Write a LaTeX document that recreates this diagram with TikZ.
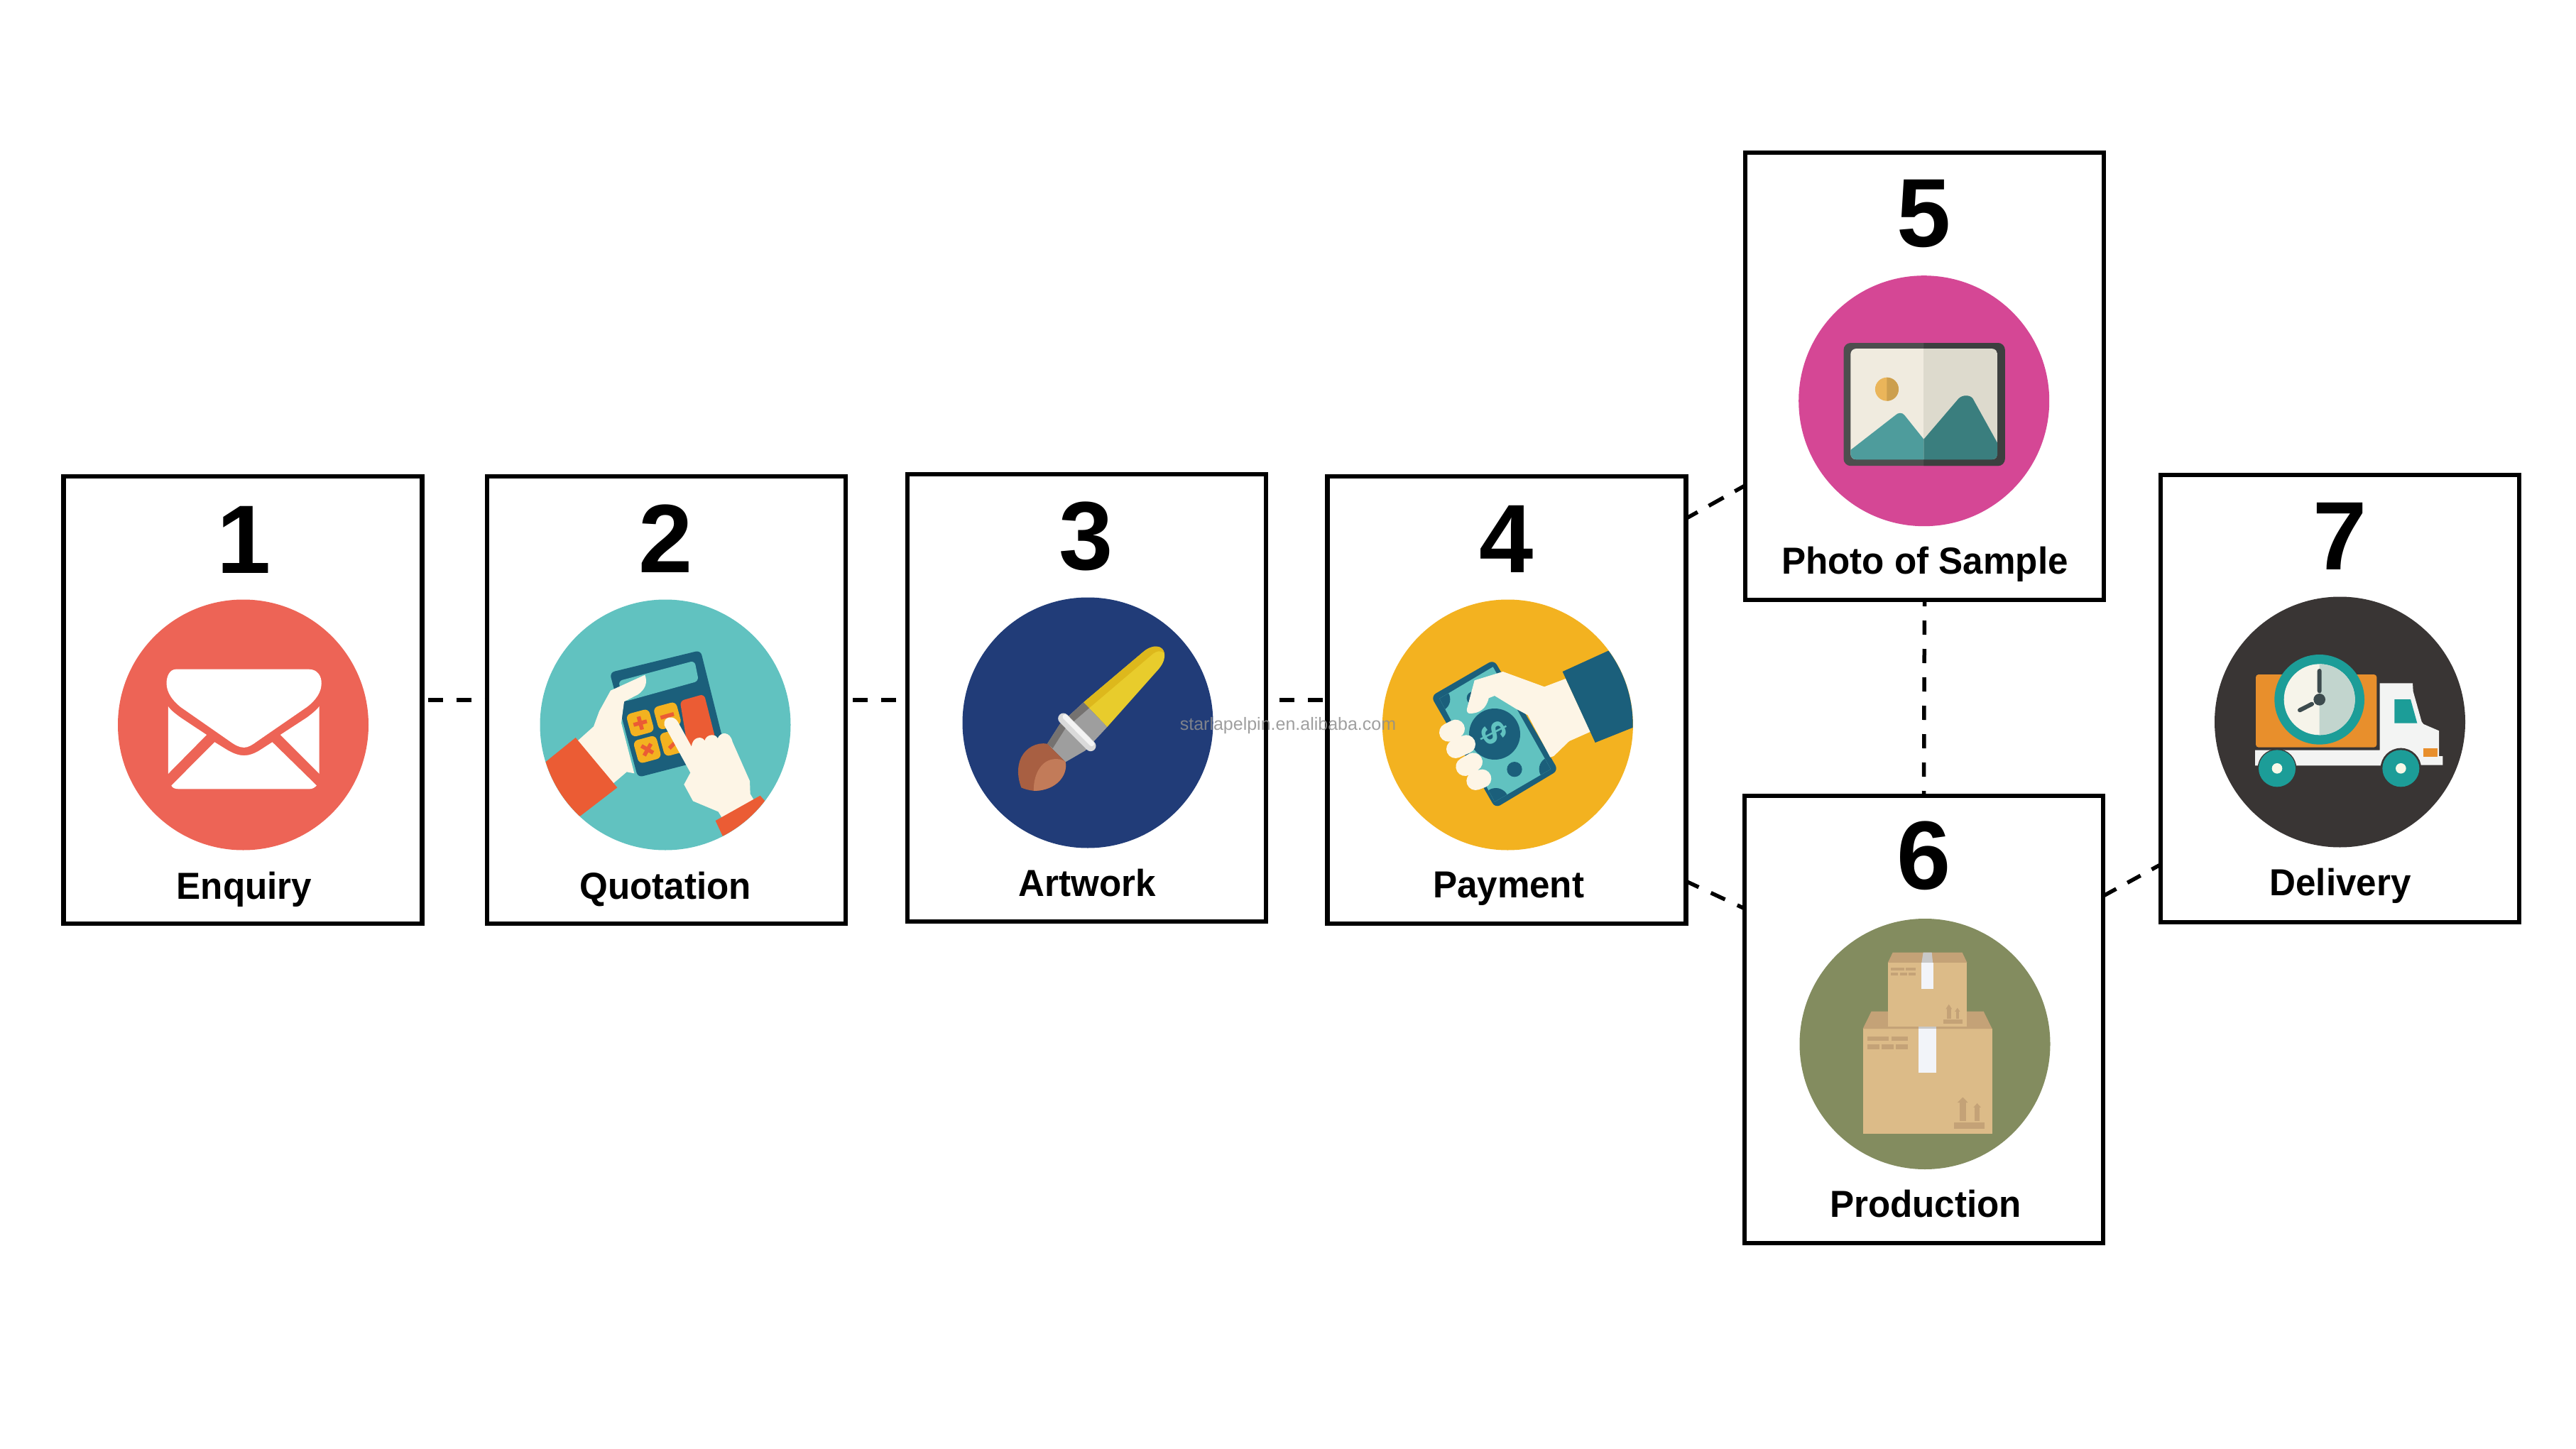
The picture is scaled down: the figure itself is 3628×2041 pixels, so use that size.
\documentclass[tikz,border=0pt]{standalone}
\usepackage{fontspec}
\usetikzlibrary{calc}
\setmainfont{Liberation Sans}
\newfontfamily\labelfamily[FakeStretch=0.965]{Liberation Sans}
\definecolor{cEnq}{HTML}{ED6456}
\definecolor{cQuo}{HTML}{61C2C0}
\definecolor{cArt}{HTML}{213C78}
\definecolor{cPay}{HTML}{F3B220}
\definecolor{cPho}{HTML}{D54795}
\definecolor{cPro}{HTML}{838C5F}
\definecolor{cDel}{HTML}{393534}
\definecolor{iBlue}{HTML}{1B5F7B}
\definecolor{iRed}{HTML}{EB5C34}
\definecolor{iCream}{HTML}{FDF5E6}
\definecolor{iTeal}{HTML}{1C9D98}
\definecolor{iOrange}{HTML}{E88F2C}
\definecolor{iBox}{HTML}{DCBB88}
\definecolor{iFlap}{HTML}{C4A277}
\definecolor{iTape}{HTML}{F2F4F9}
\definecolor{wmgray}{HTML}{8F8F8F}
\tikzset{
  hex/.code={\definecolor{tmphex}{HTML}{#1}\pgfkeysalso{color=tmphex}},
  cardbox/.style={draw=black,fill=white,line width=6.5pt,minimum width=505pt,minimum height=630pt,inner sep=0pt,outer sep=0pt},
  disc/.style={circle,draw=none,minimum size=353pt,inner sep=0pt,outer sep=0pt},
  numtext/.style={anchor=base,inner sep=0pt,font=\fontsize{137}{137}\selectfont\bfseries},
  labtext/.style={anchor=base,inner sep=0pt,font=\fontsize{53}{53}\selectfont\labelfamily\bfseries},
  link/.style={draw=black,line width=5.5pt,dash pattern=on 21pt off 19pt},
  wmark/.style={anchor=base,inner sep=0pt,text=wmgray,text opacity=.85,font=\fontsize{25}{25}\selectfont},
}
\begin{document}
\begin{tikzpicture}[x=1pt,y=-1pt]
\useasboundingbox (0,0) rectangle (3628,2041);
\fill[white] (0,0) rectangle (3628,2041);
% cards
\node[cardbox] (b1) at (342,986) {};
\node[cardbox] (b2) at (938.5,986) {};
\node[cardbox] (b3) at (1530.5,983) {};
\node[cardbox] (b4) at (2121.75,986) {};
\node[cardbox] (b5) at (2710.5,530) {};
\node[cardbox] (b6) at (2709.5,1436) {};
\node[cardbox] (b7) at (3295.5,984) {};
% discs
\node[disc,fill=cEnq] (c1) at (342.5,1021) {};
\node[disc,fill=cQuo] (c2) at (937,1021) {};
\node[disc,fill=cArt] (c3) at (1532,1018) {};
\node[disc,fill=cPay] (c4) at (2123.4,1021) {};
\node[disc,fill=cPho] (c5) at (2709.7,564.7) {};
\node[disc,fill=cPro] (c6) at (2711,1470.5) {};
\node[disc,fill=cDel] (c7) at (3295.5,1017) {};
% numbers
\node[numtext] (n1) at (344,807) {1};
\node[numtext] (n2) at (938,806.5) {2};
\node[numtext] (n3) at (1530,802) {3};
\node[numtext] (n4) at (2122,806) {4};
\node[numtext] (n5) at (2710,347.5) {5};
\node[numtext] (n6) at (2710,1252.5) {6};
\node[numtext] (n7) at (3295.5,802) {7};
% labels
\node[labtext] (l1) at (344,1266) {Enquiry};
\node[labtext] (l2) at (937,1266) {Quotation};
\node[labtext] (l3) at (1531.6,1262) {Artwork};
\node[labtext] (l4) at (2124.6,1264) {Payment};
\node[labtext] (l5) at (2711,808) {Photo of Sample};
\node[labtext] (l6) at (2712,1714) {Production};
\node[labtext] (l7) at (3296,1261) {Delivery};
% connectors
\draw[link,dash phase=32pt] (b1.east) -- (b2.west);
\draw[link,dash phase=30pt] (b2.east) -- (b2.east -| b3.west);
\draw[link,dash phase=21pt] (b4.west -| b3.east) -- (b4.west);
\draw[link,dash pattern=on 24pt off 18pt,dash phase=5pt] ($(b4.north east)!.0945!(b4.south east)$) -- ($(b5.north west)!.744!(b5.south west)$);
\draw[link,dash pattern=on 22pt off 19pt,dash phase=2pt] ($(b4.north east)!.905!(b4.south east)$) -- ($(b6.north west)!.252!(b6.south west)$);
\draw[link,dash pattern=on 20pt off 20pt,dash phase=11pt] (b5.south) -- (b6.north);
\draw[link,dash pattern=on 21pt off 18pt] ($(b6.north east)!.224!(b6.south east)$) -- ($(b7.north west)!.871!(b7.south west)$);
% ---- envelope
\begin{scope}[shift={(60,640)},x=.7524pt,y=-.4464pt]
\fill[white] (250,678) -- (498,678) .. controls (515,678) and (522,700) .. (522,722) .. controls (522,750) and (512,775) .. (495,797) -- (402,905) .. controls (392,917) and (385,925) .. (377,925) .. controls (368,925) and (360,917) .. (350,905) -- (258,797) .. controls (242,775) and (232,750) .. (232,722) .. controls (232,700) and (238,678) .. (250,678) -- cycle;
\fill[white] (235,795) .. controls (240,808) and (250,820) .. (258,830) -- (307,885) -- (235,1008) -- cycle;
\fill[white] (518,795) .. controls (512,808) and (503,820) .. (495,830) -- (445,885) -- (518,1008) -- cycle;
\fill[white] (322,908) -- (345,932) .. controls (358,945) and (368,950) .. (377,950) .. controls (386,950) and (396,945) .. (408,932) -- (430,908) -- (513,1045) .. controls (508,1053) and (505,1056) .. (498,1056) -- (256,1056) .. controls (248,1056) and (243,1053) .. (241,1045) -- cycle;
\end{scope}
% ---- calculator
\begin{scope}[shift={(760,880)},x=.33333pt,y=-.33333pt]
\clip (531,423) circle [radius=529];
\fill[iBlue,rounded corners=7pt] (296,202) -- (680,108) -- (790,548) -- (415,645) -- cycle;
\fill[cQuo,rounded corners=6pt] (332,238) -- (655,152) -- (672,238) -- (358,325) -- cycle;
\fill[iRed,rounded corners=6pt] (593,322) -- (695,293) -- (750,510) -- (630,545) -- cycle;
\foreach \c in {(425,415),(540,385),(455,527),(565,497)}
  \fill[cPay,rounded corners=7pt] \c +(-61,-35) -- +(35,-61) -- +(61,35) -- +(-35,61) -- cycle;
\draw[iRed,line width=5.5pt] (397,423) -- (453,408) (418,388) -- (433,443);
\draw[iRed,line width=5.5pt] (511,393) -- (567,377);
\draw[iRed,line width=5.5pt] (430,512) -- (480,541) (442,553) -- (470,503);
\draw[iRed,line width=5.5pt] (548,522) -- (570,500);
\fill[iCream] (445,212) -- (300,278) -- (252,365) -- (228,430) -- (150,500) -- (300,680) -- (368,622) -- (400,628) -- (345,415) -- (357,325) -- (415,295) .. controls (445,275) and (458,245) .. (445,212) -- cycle;
\fill[iRed] (152,477) -- (328,688) -- (172,808) -- (0,800) -- (0,600) -- cycle;
\fill[iCream] (527,425) .. controls (520,385) and (570,380) .. (585,412) -- (642,515) .. controls (645,470) and (690,470) .. (697,490) .. controls (705,460) and (745,460) .. (752,480) .. controls (765,450) and (805,450) .. (815,495) -- (888,660) -- (890,715) -- (905,740) -- (770,815) -- (755,790) -- (648,745) -- (610,675) -- (637,625) -- cycle;
\fill[iRed] (932,722) -- (1000,800) -- (960,950) -- (800,950) -- (743,828) -- cycle;
\end{scope}
% ---- brush
\begin{scope}[shift={(1400,880)},x=.33333pt,y=-.33333pt]
\fill[hex=E8CC2C] (378,328) -- (630,115) .. controls (670,80) and (725,85) .. (720,135) .. controls (718,160) and (705,175) .. (695,188) -- (478,432) -- cycle;
\fill[hex=DDB81C] (378,328) -- (630,115) .. controls (670,80) and (715,85) .. (720,122) .. controls (705,105) and (685,112) .. (672,122) -- (402,352) -- cycle;
\fill[hex=9E9E9E] (378,328) -- (478,432) -- (385,532) -- (302,580) -- (225,503) -- (278,420) -- cycle;
\fill[hex=757270] (378,328) -- (402,352) -- (300,440) -- (248,522) -- (225,503) -- (278,420) -- cycle;
\draw[hex=DADADA,line width=15pt,line cap=round] (293,396) -- (408,512);
\draw[hex=F4F4F4,line width=7pt,line cap=round] (300,389) -- (413,503);
\fill[hex=A85F42] (225,503) -- (302,580) .. controls (312,630) and (270,700) .. (170,702) .. controls (150,700) and (130,695) .. (115,688) .. controls (100,650) and (95,600) .. (115,560) .. controls (135,520) and (180,495) .. (225,503) -- cycle;
\fill[hex=C27B59] (168,702) .. controls (165,640) and (195,575) .. (250,568) .. controls (275,565) and (295,572) .. (302,580) .. controls (312,630) and (270,700) .. (168,702) -- cycle;
\end{scope}
% ---- payment
\begin{scope}[shift={(1950,880)},x=.33333pt,y=-.33333pt]
\clip (520,423) circle [radius=529];
\fill[iBlue,rounded corners=8pt] (196,302) -- (462,148) -- (734,615) -- (468,775) -- cycle;
\begin{scope}
\clip (232,312) -- (458,178) -- (702,610) -- (465,748) -- cycle;
\fill[cQuo] (200,150) rectangle (740,780);
\fill[iBlue] (225,315) circle [radius=52];
\fill[iBlue] (705,610) circle [radius=52];
\fill[iBlue] (470,745) circle [radius=55];
\fill[iBlue] (375,310) circle [radius=28];
\end{scope}
\fill[iBlue] (465,462) circle [radius=108];
\fill[iBlue] (549,611) circle [radius=32];
\node[text=cQuo,rotate=-63,inner sep=0pt,font=\fontsize{50}{50}\selectfont\bfseries] (dollar) at (462,456) {\$};
\fill[iCream] (380,235) -- (500,198) -- (675,262) -- (765,228) -- (870,452) -- (780,492) -- (715,555) -- (700,560) -- (605,382) -- (555,355) -- (465,300) -- (440,310) .. controls (430,355) and (400,375) .. (360,375) .. controls (350,375) and (346,365) .. (348,355) -- cycle;
\draw[iCream,line width=26pt,line cap=round] (270,455) -- (300,440) (300,525) -- (345,505) (340,600) -- (375,580) (385,660) -- (412,650);
\fill[iBlue] (752,198) -- (945,110) -- (1060,150) -- (1060,430) -- (890,498) -- cycle;
\end{scope}
% ---- photo
\begin{scope}[shift={(2440,200)},x=.7524pt,y=-.4464pt]
\fill[hex=4D4E4E,rounded corners=10pt] (208,634) rectangle (510,1022);
\begin{scope}
\clip (358,600) rectangle (540,1040);
\fill[hex=3D3F3F,rounded corners=10pt] (208,634) rectangle (510,1022);
\end{scope}
\begin{scope}
\clip[rounded corners=8pt] (221,652) rectangle (496,1002);
\fill[hex=F0EBDF] (221,652) rectangle (358,1002);
\fill[hex=DDDACD] (358,652) rectangle (496,1002);
\fill[hex=4E9C9C] (221,972) -- (305,862) .. controls (310,853) and (318,853) .. (322,862) -- (358,938) -- (358,1002) -- (221,1002) -- cycle;
\fill[hex=3A7E7E] (358,938) -- (423,810) .. controls (430,797) and (445,797) .. (450,810) -- (496,950) -- (496,1002) -- (358,1002) -- cycle;
\end{scope}
\fill[hex=EAB55A] (289,780) ellipse [x radius=22,y radius=37];
\begin{scope}
\clip (289,730) rectangle (320,830);
\fill[hex=CC9F4E] (289,780) ellipse [x radius=22,y radius=37];
\end{scope}
\end{scope}
% ---- parcels
\begin{scope}[shift={(2440,1100)},x=.7524pt,y=-.4464pt]
\fill[iBox] (244,782) rectangle (486,1113);
\fill[iFlap] (244,782) -- (260,727) -- (470,727) -- (486,782) -- cycle;
\fill[hex=C8C8C8] (348,775) rectangle (382,782);
\fill[iTape] (348,782) rectangle (382,920);
\foreach \a/\b/\c/\d in {252/806/292/820,298/806/328/820,252/832/275/846,279/832/302/846,306/832/328/846,425/1015/437/1073,453/1030/463/1073,415/1078/472/1097}
  \fill[iFlap] (\a,\b) rectangle (\c,\d);
\fill[iFlap] (421,1015) -- (431,998) -- (441,1015) -- cycle;
\fill[iFlap] (451,1030) -- (458,1017) -- (465,1030) -- cycle;
\fill[iBox] (291,573) rectangle (439,775);
\fill[iFlap] (291,573) -- (300,541) -- (430,541) -- (439,573) -- cycle;
\fill[hex=C8C8C8] (357,541) -- (373,541) -- (375,573) -- (354,573) -- cycle;
\fill[iTape] (354,573) rectangle (376,657);
\foreach \a/\b/\c/\d in {297/589/321/597,324/589/343/597,297/605/310/613,313/605/327/613,330/605/343/613,401/720/409/750,418/728/424/750,395/753/430/765}
  \fill[iFlap] (\a,\b) rectangle (\c,\d);
\fill[iFlap] (399,720) -- (405,705) -- (411,720) -- cycle;
\fill[iFlap] (416,728) -- (421,716) -- (426,728) -- cycle;
\end{scope}
% ---- truck
\begin{scope}[shift={(3040,820)},x=.33333pt,y=-.33333pt]
\fill[hex=F3F4F3] (935,427) -- (1074,427) -- (1076,462) -- (1112,590) -- (1120,600) -- (1185,628) -- (1185,735) -- (1201,735) -- (1201,773) -- (1100,773) -- (940,775) -- (408,775) -- (408,710) -- (935,710) -- cycle;
\fill[iOrange,rounded corners=4pt] (411,390) rectangle (922,698);
\fill[iTeal] (997,495) -- (1065,495) -- (1093,596) -- (997,596) -- cycle;
\fill[iOrange] (1120,702) rectangle (1180,737);
\fill[cDel] (501,787) circle [radius=82];
\fill[cDel] (1024,787) circle [radius=86];
\fill[iTeal] (501,787) circle [radius=78];
\fill[iTeal] (1024,787) circle [radius=78];
\fill[hex=F8F8E8] (501,787) circle [radius=22];
\fill[hex=F8F8E8] (1024,787) circle [radius=22];
\fill[iTeal] (680,496) circle [radius=190];
\fill[hex=F6F4EA] (680,496) circle [radius=150];
\begin{scope}
\clip (680,340) rectangle (840,660);
\fill[hex=C2D5CE] (680,496) circle [radius=150];
\end{scope}
\draw[hex=3D4B4E,line width=6pt,line cap=round] (680,375) -- (680,460) (597,541) -- (648,515);
\fill[hex=3D4B4E] (680,496) circle [radius=25];
\end{scope}
% watermark
\node[wmark] (wm) at (1814,1028) {starlapelpin.en.alibaba.com};
\end{tikzpicture}
\end{document}
